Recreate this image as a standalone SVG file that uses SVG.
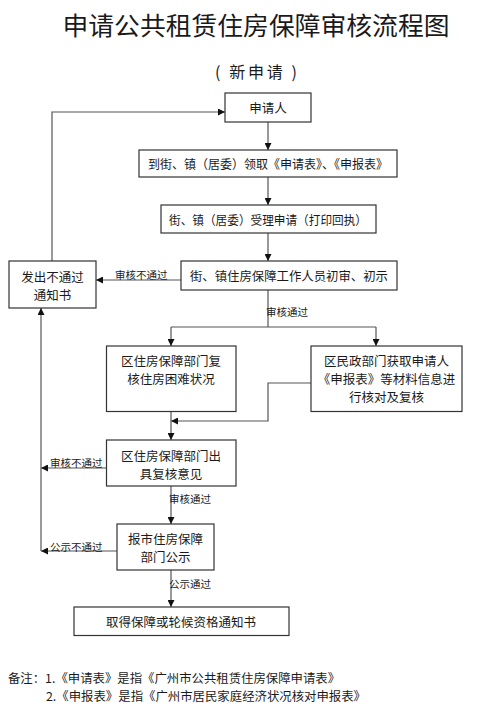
<svg xmlns="http://www.w3.org/2000/svg" width="495" height="716" viewBox="0 0 495 716">
<defs>
<marker id="ah" viewBox="0 0 10 10" refX="10" refY="5" markerWidth="7" markerHeight="7" markerUnits="userSpaceOnUse" orient="auto">
<path d="M0,0 L10,5 L0,10 Z" fill="#111"/>
</marker>
</defs>
<style>
text{font-family:"Noto Sans CJK SC","Noto Sans",sans-serif;fill:#1a1a1a;dominant-baseline:central}
.box{fill:#fff;stroke:#333;stroke-width:1.2}
.c{fill:none;stroke:#555;stroke-width:1.2}
.a{marker-end:url(#ah)}
.t{font-size:12.5px;text-anchor:middle}
.l{font-size:10.5px}
</style>
<rect width="495" height="716" fill="#fff"/>
<text x="256" y="24" style="font-size:25px;text-anchor:middle" textLength="387" lengthAdjust="spacingAndGlyphs">申请公共租赁住房保障审核流程图</text>
<text x="256" y="71" style="font-size:16px;text-anchor:middle" textLength="82" lengthAdjust="spacing">( 新申请 )</text>

<g id="connectors">
<polyline class="c a" points="52,261 52,112 225,112"/>
<line class="c a" x1="268" y1="122" x2="268" y2="150"/>
<line class="c a" x1="268" y1="177" x2="268" y2="205"/>
<line class="c a" x1="268" y1="233" x2="268" y2="261"/>
<line class="c a" x1="181" y1="280" x2="96" y2="280"/>
<text class="l" x="115" y="274">审核不通过</text>
<line class="c" x1="268" y1="290" x2="268" y2="327"/>
<text class="l" x="266" y="311">审核通过</text>
<line class="c" x1="171" y1="327" x2="376" y2="327"/>
<line class="c a" x1="171" y1="327" x2="171" y2="346"/>
<line class="c a" x1="376" y1="327" x2="376" y2="346"/>
<polyline class="c a" points="311,383 268,383 268,421 171,421"/>
<line class="c a" x1="171" y1="411" x2="171" y2="440"/>
<line class="c a" x1="106" y1="468" x2="41" y2="468"/>
<text class="l" x="50" y="462">审核不通过</text>
<line class="c a" x1="117" y1="551" x2="41" y2="551"/>
<text class="l" x="50" y="546">公示不通过</text>
<line class="c a" x1="41" y1="551" x2="41" y2="308"/>
<line class="c a" x1="171" y1="486" x2="171" y2="524"/>
<text class="l" x="169" y="498">审核通过</text>
<line class="c a" x1="171" y1="570" x2="171" y2="607"/>
<text class="l" x="169" y="583">公示通过</text>
</g>

<g id="n1">
<rect class="box" x="225" y="93" width="86" height="29"/>
<text class="t" x="268" y="107">申请人</text>
</g>
<g id="n2">
<rect class="box" x="139" y="150" width="258" height="27"/>
<text class="t" x="268" y="163.5" textLength="240" lengthAdjust="spacingAndGlyphs">到街、镇（居委）领取《申请表》、《申报表》</text>
</g>
<g id="n3">
<rect class="box" x="161" y="205" width="215" height="28"/>
<text class="t" x="268" y="219" textLength="198" lengthAdjust="spacingAndGlyphs">街、镇（居委）受理申请（打印回执）</text>
</g>
<g id="n4">
<rect class="box" x="181" y="261" width="216" height="29"/>
<text class="t" x="289" y="275.5" textLength="198" lengthAdjust="spacingAndGlyphs">街、镇住房保障工作人员初审、初示</text>
</g>
<g id="n5">
<rect class="box" x="9" y="261" width="87" height="47"/>
<text class="t" x="52.5" y="276">发出不通过</text>
<text class="t" x="52.5" y="294">通知书</text>
</g>
<g id="n6">
<rect class="box" x="106.5" y="346" width="129.5" height="65.5"/>
<text class="t" x="171" y="360">区住房保障部门复</text>
<text class="t" x="171" y="378">核住房困难状况</text>
</g>
<g id="n7">
<rect class="box" x="311" y="346" width="151" height="65.5"/>
<text class="t" x="386.5" y="360">区民政部门获取申请人</text>
<text class="t" x="386.5" y="378">《申报表》等材料信息进</text>
<text class="t" x="386.5" y="396">行核对及复核</text>
</g>
<g id="n8">
<rect class="box" x="106.5" y="440" width="129.5" height="46"/>
<text class="t" x="171" y="455">区住房保障部门出</text>
<text class="t" x="171" y="473">具复核意见</text>
</g>
<g id="n9">
<rect class="box" x="117" y="524" width="97" height="46"/>
<text class="t" x="165.5" y="538">报市住房保障</text>
<text class="t" x="165.5" y="556">部门公示</text>
</g>
<g id="n10">
<rect class="box" x="74" y="607" width="215" height="28.5"/>
<text class="t" x="181" y="621">取得保障或轮候资格通知书</text>
</g>

<text x="8" y="677" style="font-size:12px" textLength="332" lengthAdjust="spacingAndGlyphs">备注：1.《申请表》是指《广州市公共租赁住房保障申请表》</text>
<text x="46" y="695" style="font-size:12px" textLength="320" lengthAdjust="spacingAndGlyphs">2.《申报表》是指《广州市居民家庭经济状况核对申报表》</text>
</svg>
